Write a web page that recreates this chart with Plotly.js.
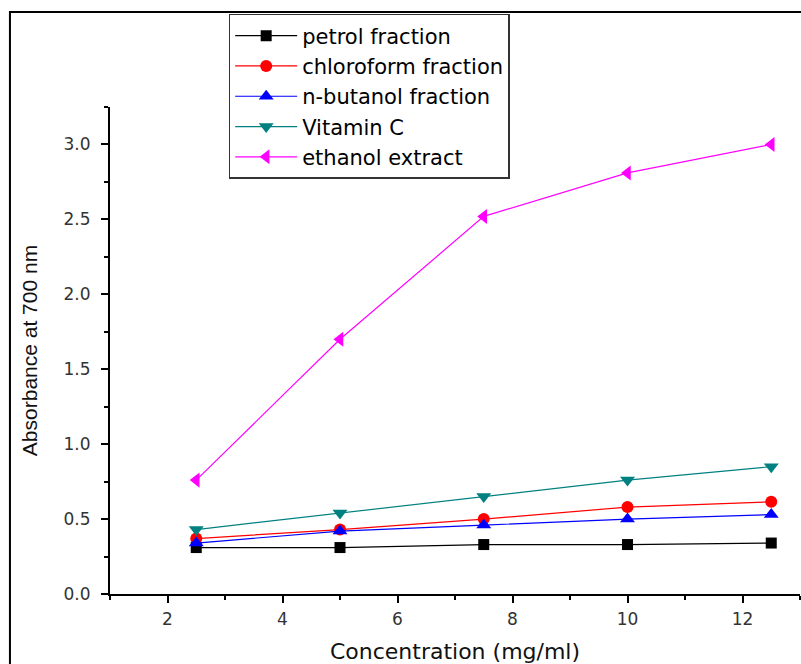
<!DOCTYPE html>
<html>
<head>
<meta charset="utf-8">
<script src="https://cdn.plot.ly/plotly-3.0.1.min.js"></script>
<style>html,body{margin:0;padding:0;background:#fff;}#chart{width:801px;height:664px;}</style>
</head>
<body>
<div id="chart"></div>
<script>
const concentration = [2.5, 5, 7.5, 10, 12.5];
const petrol = [0.31, 0.31, 0.33, 0.33, 0.34];
const chloroform = [0.37, 0.43, 0.50, 0.58, 0.615];
const butanol = [0.34, 0.42, 0.46, 0.50, 0.53];
const vitaminC = [0.43, 0.54, 0.65, 0.76, 0.85];
const ethanol = [0.76, 1.70, 2.52, 2.81, 3.00];
const seriesNames = ["petrol fraction", "chloroform fraction", "n-butanol fraction", "Vitamin C", "ethanol extract"];

const mk = (y, name, color, symbol, size) => ({
  x: concentration, y: y, name: name, type: 'scatter', mode: 'lines+markers',
  line: {color: color, width: 1.2},
  marker: {color: color, symbol: symbol, size: size}
});

const data = [
  mk(petrol, seriesNames[0], '#000000', 'square', 11),
  mk(chloroform, seriesNames[1], '#ff0000', 'circle', 12),
  mk(butanol, seriesNames[2], '#0000ff', 'triangle-up', 13),
  mk(vitaminC, seriesNames[3], '#008080', 'triangle-down', 13),
  mk(ethanol, seriesNames[4], '#ff00ff', 'triangle-left', 13)
];

const wide = 'DejaVu Sans, Verdana, sans-serif';
const axisFont = {family: wide, size: 17, color: '#333'};
const layout = {
  width: 801, height: 664,
  margin: {l: 110, r: 1, t: 107, b: 70},
  paper_bgcolor: '#fff', plot_bgcolor: '#fff',
  font: {family: wide, color: '#000'},
  showlegend: true,
  legend: {
    x: 0.172, y: 1.191, xanchor: 'left', yanchor: 'top',
    bordercolor: '#333', borderwidth: 1.5, bgcolor: '#fff',
    font: {size: 21, color: '#000', family: wide}, tracegroupgap: 0,
    itemwidth: 62
  },
  xaxis: {
    range: [1, 13], tick0: 2, dtick: 2, showgrid: false, zeroline: false,
    showline: true, linecolor: '#000', linewidth: 2,
    ticks: 'outside', ticklen: 7, tickwidth: 2, tickcolor: '#000',
    tickfont: axisFont, ticklabelstandoff: 2,
    minor: {dtick: 1, ticks: 'outside', ticklen: 4, tickwidth: 2, tickcolor: '#000', showgrid: false},
    title: {text: 'Concentration (mg/ml)', font: {size: 22, color: '#111', family: wide}, standoff: 16}
  },
  yaxis: {
    range: [0, 3.25], tick0: 0, dtick: 0.5, tickformat: '.1f', showgrid: false, zeroline: false,
    showline: true, linecolor: '#000', linewidth: 2,
    ticks: 'outside', ticklen: 7, tickwidth: 2, tickcolor: '#000',
    tickfont: axisFont, ticklabelstandoff: 7,
    minor: {dtick: 0.25, ticks: 'outside', ticklen: 4, tickwidth: 2, tickcolor: '#000', showgrid: false},
    title: {text: 'Absorbance at 700 nm', font: {size: 21, color: '#111', family: 'Liberation Sans, Arial, sans-serif'}, standoff: 20}
  },
  shapes: [{
    type: 'rect', xref: 'paper', yref: 'paper',
    x0: -0.145, x1: 1.2, y0: -0.3, y1: 1.195,
    line: {color: '#000', width: 2}, fillcolor: 'rgba(0,0,0,0)', layer: 'below'
  }]
};

Plotly.newPlot('chart', data, layout, {displayModeBar: false, staticPlot: true});
</script>
</body>
</html>
